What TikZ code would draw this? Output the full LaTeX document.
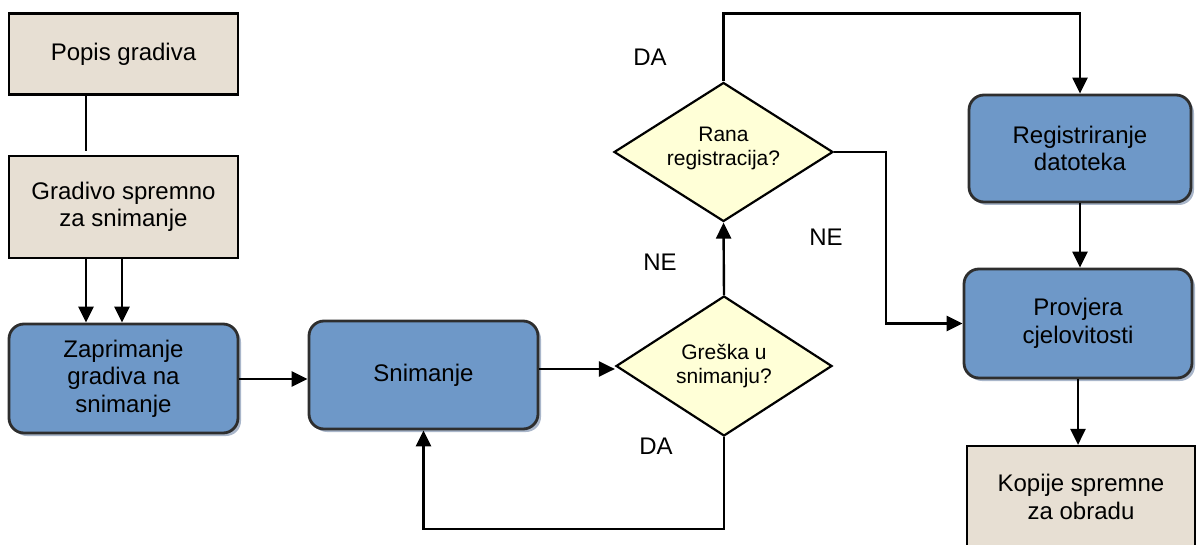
\documentclass[tikz,border=0pt]{standalone}
\usepackage{fontspec}
\setmainfont{Liberation Sans}
\usetikzlibrary{shapes.geometric,shadows,arrows.meta,positioning}

\definecolor{beigefill}{HTML}{E7DFD3}
\definecolor{bluefill}{HTML}{6E98C8}
\definecolor{yellowfill}{HTML}{FFFFD7}
\definecolor{edgegrey}{HTML}{2E2E2E}
\definecolor{shadowc}{HTML}{A9B6CA}

\tikzset{
  base/.style={align=center, inner sep=0pt, text=black,
    font=\fontsize{24}{27.5}\selectfont},
  docbox/.style={base, rectangle, draw=black, line width=2.2pt, fill=beigefill},
  procbox/.style={base, rectangle, rounded corners=15pt, draw=edgegrey,
    line width=2.8pt, fill=bluefill,
    drop shadow={shadow xshift=3pt, shadow yshift=-3pt, fill=shadowc, opacity=1}},
  decision/.style={base, diamond, aspect=1.55, draw=black, line width=2.2pt,
    fill=yellowfill, font=\fontsize{21}{24}\selectfont},
  lbl/.style={base},
  conn/.style={line width=2.4pt, draw=black},
  arr/.style={conn, -{Triangle[length=16pt,width=15pt]}},
}

\begin{document}
\begin{tikzpicture}[x=1pt, y=-1pt]
  \useasboundingbox (0,0) rectangle (1196,545);
  \clip (0,0) rectangle (1196,545);

  % material boxes
  \node[docbox, minimum width=229pt, minimum height=81pt] (popis) at (123.5,54) {Popis gradiva};
  \node[docbox, minimum width=229pt, minimum height=102pt] (gradivo) at (123.5,207) {Gradivo spremno\\za snimanje};
  \node[docbox, minimum width=228pt, minimum height=102pt] (kopije) at (1081,497) {Kopije spremne\\za obradu};

  % process steps
  \node[procbox, minimum width=229pt, minimum height=109pt] (zapr) at (123.5,378.5) {Zaprimanje\\gradiva na\\snimanje};
  \node[procbox, minimum width=229pt, minimum height=108pt] (snim) at (423.5,375) {Snimanje};
  \node[procbox, minimum width=222pt, minimum height=107pt] (reg) at (1080,148.5) {Registriranje\\datoteka};
  \node[procbox, minimum width=228pt, minimum height=109pt] (prov) at (1078,323.5) {Provjera\\cjelovitosti};

  % decisions
  \node[decision, minimum width=216pt, minimum height=140pt] (gre) at (724,366) {Gre\v{s}ka u\\snimanju?};
  \node[decision, minimum width=219pt, minimum height=139pt, text depth=12pt] (rana) at (723.5,152) {Rana\\registracija?};

  % branch labels
  \node[lbl] (daTop) at (650,57) {DA};
  \node[lbl] (neLeft) at (660,262) {NE};
  \node[lbl] (neRight) at (826,237) {NE};
  \node[lbl] (daBottom) at (656,446) {DA};

  % connectors
  \draw[conn] ([xshift=-37.5pt]popis.south) -- ([xshift=-37.5pt,yshift=4pt]gradivo.north);
  \draw[arr] ([xshift=-37.5pt]gradivo.south) -- ([xshift=-37.5pt]zapr.north);
  \draw[arr] ([xshift=-1.5pt]gradivo.south) -- ([xshift=-1.5pt]zapr.north);
  \draw[arr] ([yshift=-0.5pt]zapr.east) -- ([yshift=-0.5pt]zapr.east -| snim.west);
  \draw[arr] ([yshift=6pt]snim.east) -- ([yshift=6pt]snim.east -| gre.west);
  \draw[arr] (gre.south) -- ++(0,92) -| (snim.south);
  \draw[arr] (gre.north) -- (rana.south);
  \draw[arr] (rana.north) -- ++(0,-68) -| (reg.north);
  \draw[arr] (rana.east) -- ++(52,0) |- (prov.west);
  \draw[arr] (reg.south) -- (reg.south |- prov.north);
  \draw[arr] (prov.south) -- (prov.south |- kopije.north);
\end{tikzpicture}
\end{document}
